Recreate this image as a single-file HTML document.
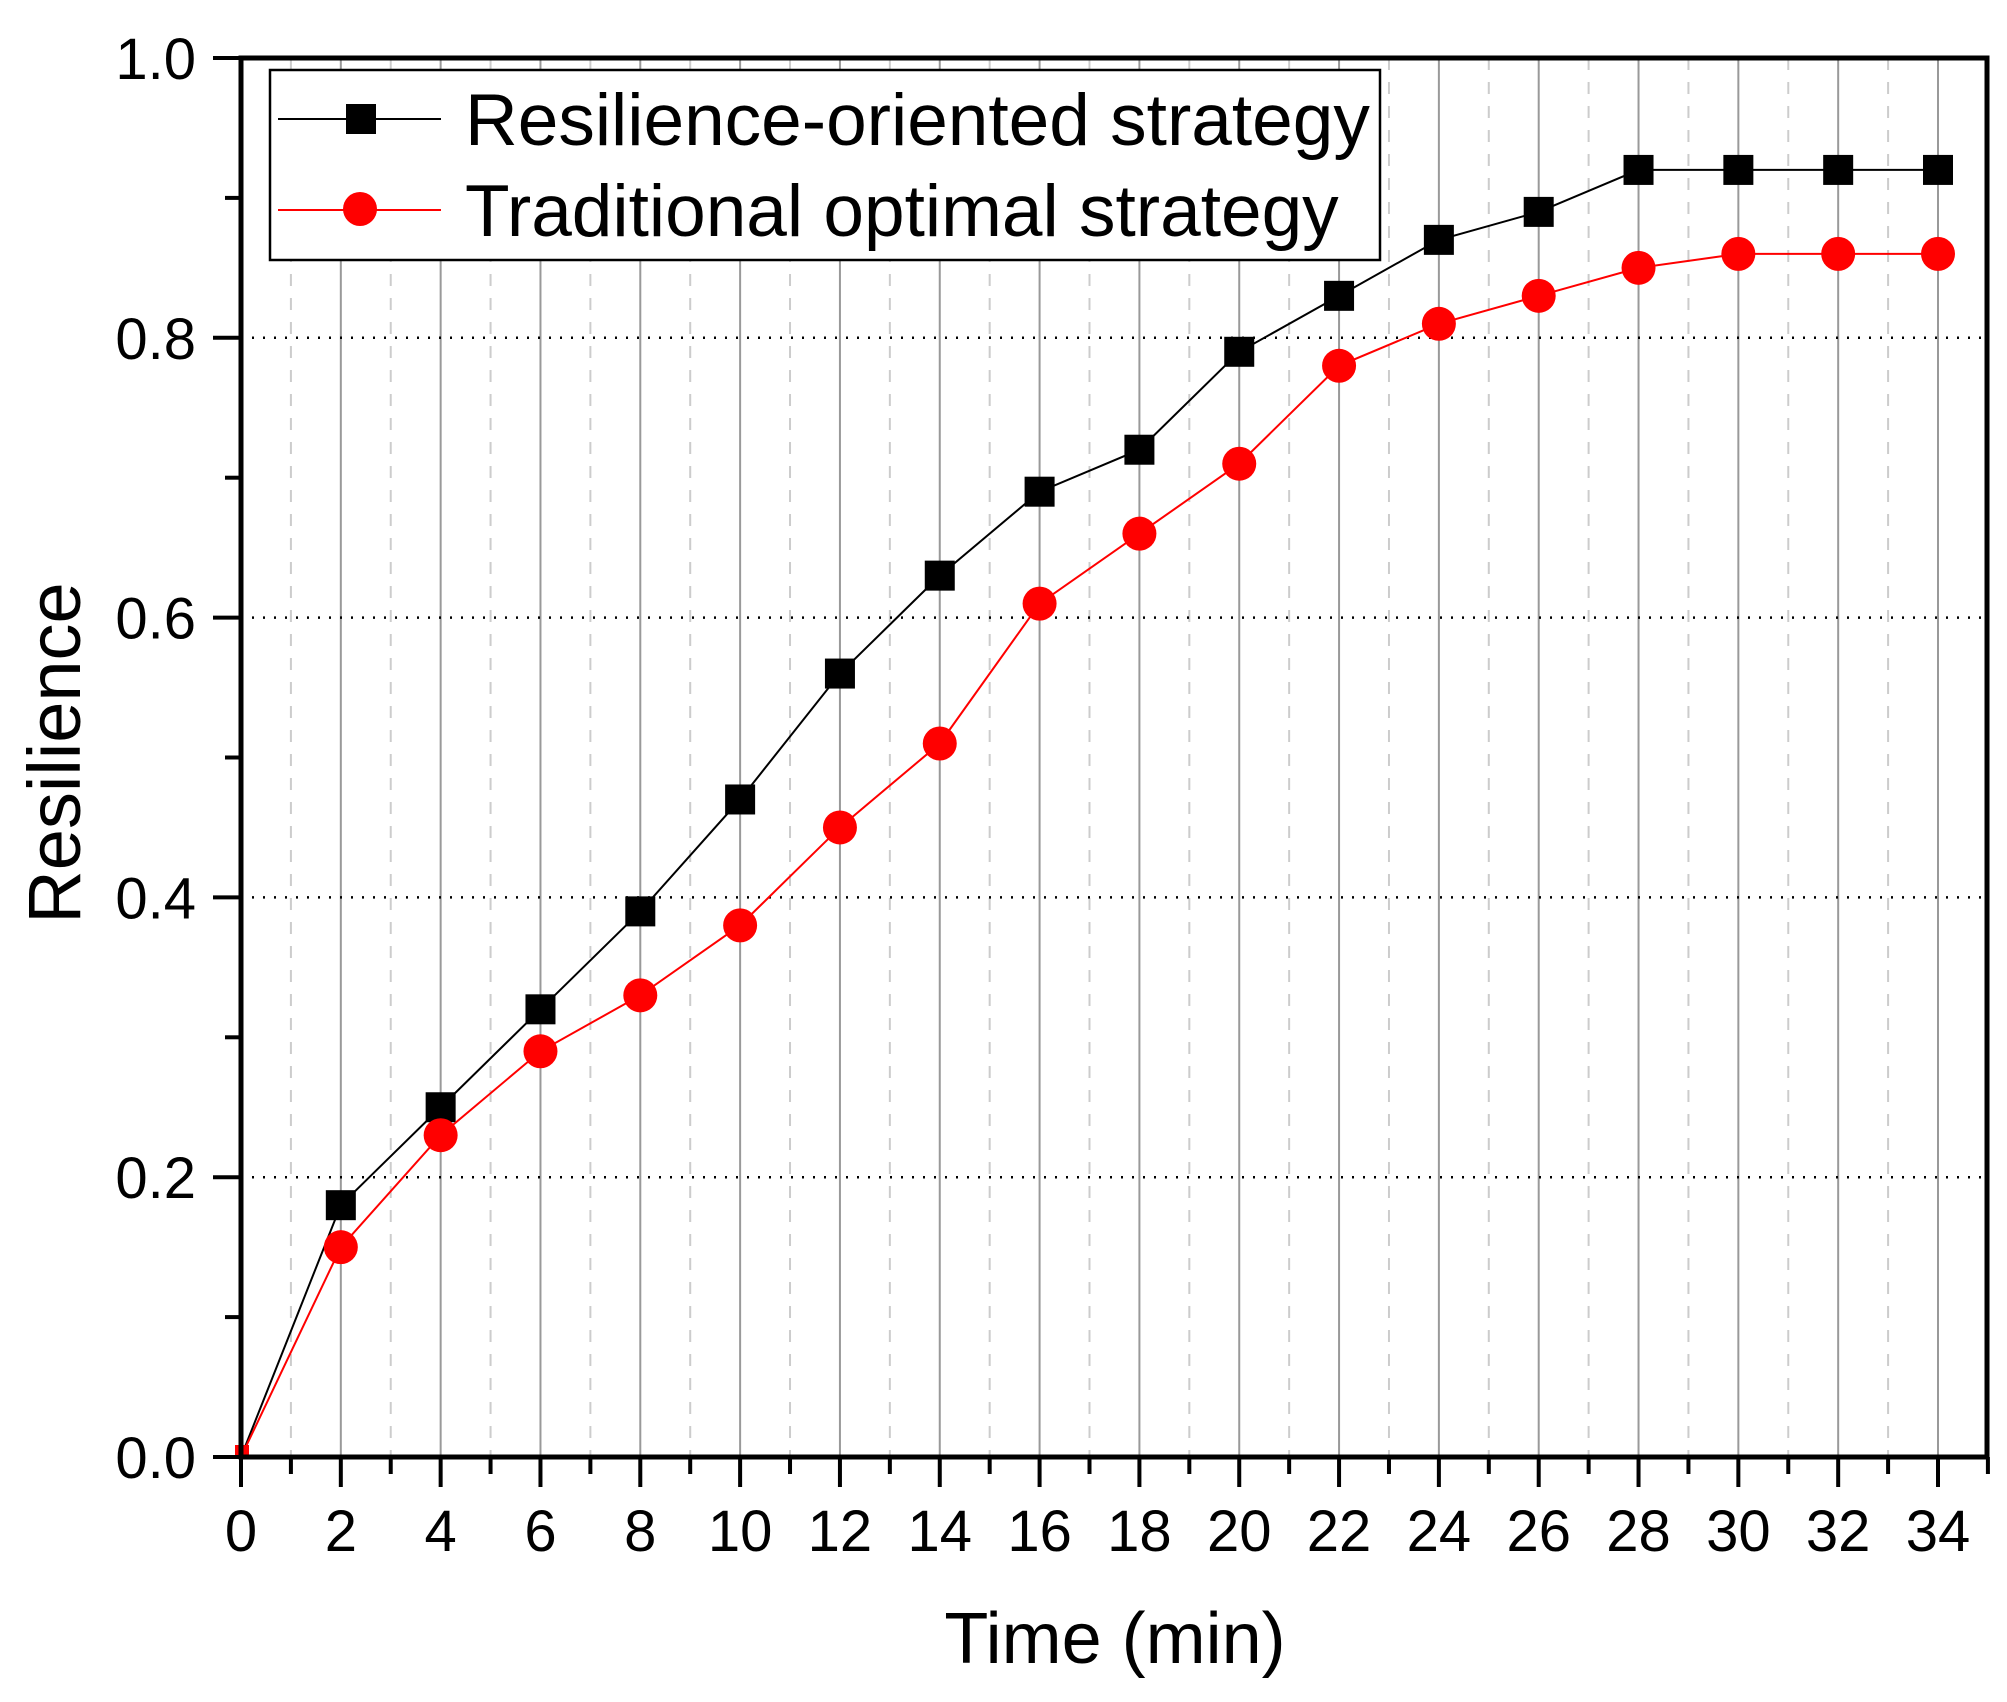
<!DOCTYPE html>
<html><head><meta charset="utf-8"><style>
html,body{margin:0;padding:0;background:#fff}
svg{display:block}
text{font-family:"Liberation Sans",Arial,sans-serif;fill:#000}
</style></head><body>
<svg id="chart" width="2007" height="1702" viewBox="0 0 2007 1702" xmlns="http://www.w3.org/2000/svg">
<g id="grid"></g>
<g id="series"></g>
<g id="axes"></g>
<g id="legend">
  <rect x="270" y="70" width="1110" height="190" fill="#fff" stroke="#000" stroke-width="2.5"/>
  <line x1="278" y1="119" x2="441" y2="119" stroke="#000" stroke-width="2"/>
  <rect x="346" y="104" width="30" height="30" fill="#000"/>
  <text x="465" y="145" font-size="73">Resilience-oriented strategy</text>
  <line x1="278" y1="210" x2="441" y2="210" stroke="#f00" stroke-width="2"/>
  <circle cx="360" cy="209" r="17" fill="#f00"/>
  <text x="465" y="236" font-size="73">Traditional optimal strategy</text>
</g>
<text transform="translate(80,753) rotate(-90)" text-anchor="middle" font-size="74">Resilience</text>
<text x="1115" y="1663" text-anchor="middle" font-size="72">Time (min)</text>
</svg>
<script>
const times = [0,2,4,6,8,10,12,14,16,18,20,22,24,26,28,30,32,34];
const resilienceOriented = [0,0.18,0.25,0.32,0.39,0.47,0.56,0.63,0.69,0.72,0.79,0.83,0.87,0.89,0.92,0.92,0.92,0.92];
const traditionalOptimal = [0,0.15,0.23,0.29,0.33,0.38,0.45,0.51,0.61,0.66,0.71,0.78,0.81,0.83,0.85,0.86,0.86,0.86];
const xTickLabels = [0,2,4,6,8,10,12,14,16,18,20,22,24,26,28,30,32,34];
const yTickLabels = ["0.0","0.2","0.4","0.6","0.8","1.0"];

const NS = "http://www.w3.org/2000/svg";
const L = 241, R = 1987, T = 58, B = 1457;
const xs = t => L + t * (1938 - 241) / 34;
const ys = v => B - v * (B - T);
function mk(tag, attrs, parent) {
  const e = document.createElementNS(NS, tag);
  for (const k in attrs) e.setAttribute(k, attrs[k]);
  parent.appendChild(e);
  return e;
}
const grid = document.getElementById('grid');
const axes = document.getElementById('axes');
const series = document.getElementById('series');

// vertical grid lines
for (let t = 1; t <= 34; t++) {
  const major = t % 2 === 0;
  const ln = mk('line', {x1: xs(t), x2: xs(t), y1: T, y2: B, stroke: major ? '#999' : '#ccc', 'stroke-width': 2, 'stroke-dasharray': major ? 'none' : '12,12'}, grid);
  
  
}
// horizontal dotted grid
for (let i = 1; i <= 4; i++) {
  const v = i * 0.2;
  const ln = mk('line', {x1: L, x2: R, y1: ys(v), y2: ys(v), stroke: '#000', 'stroke-width': 2.5, 'stroke-dasharray': '2,9'}, grid);
  
  
}

// series
function drawSeries(vals, color, kind, name) {
  const g = mk('g', {}, series);
  
  
  const pts = times.map((t, i) => xs(t) + ',' + ys(vals[i])).join(' ');
  const pl = mk('polyline', {points: pts, fill: 'none', stroke: color, 'stroke-width': 2}, g);
  
  
  times.forEach((t, i) => {
    let m;
    if (i === 0) {
      m = mk('rect', {x: xs(t) - 6, y: ys(vals[i]) - 12, width: 14, height: 12, fill: color}, g);
    } else if (kind === 'square') {
      m = mk('rect', {x: xs(t) - 15, y: ys(vals[i]) - 15, width: 30, height: 30, fill: color}, g);
    } else {
      m = mk('circle', {cx: xs(t), cy: ys(vals[i]), r: 17, fill: color}, g);
    }
    
    
  });
}
drawSeries(resilienceOriented, '#000', 'square', 'resilience-oriented-series');
drawSeries(traditionalOptimal, '#f00', 'circle', 'traditional-optimal-series');

// frame
const frame = mk('rect', {x: L, y: T, width: R - L, height: B - T, fill: 'none', stroke: '#000', 'stroke-width': 5}, axes);



// x ticks
for (let t = 0; t <= 35; t++) {
  const major = t % 2 === 0;
  const tk = mk('line', {x1: xs(t), x2: xs(t), y1: B, y2: B + (major ? 30 : 17), stroke: '#000', 'stroke-width': 4}, axes);
  
  
}
xTickLabels.forEach(v => {
  const tx = mk('text', {x: xs(v), y: 1551, 'text-anchor': 'middle', 'font-size': 58}, axes);
  tx.textContent = v;
  
  
});
// y ticks
for (let i = 0; i <= 10; i++) {
  const major = i % 2 === 0;
  const tk = mk('line', {x1: L - (major ? 28 : 16), x2: L, y1: ys(i / 10), y2: ys(i / 10), stroke: '#000', 'stroke-width': 4}, axes);
  
  
}
yTickLabels.forEach((s, i) => {
  const tx = mk('text', {x: 196, y: ys(i * 0.2) + 21, 'text-anchor': 'end', 'font-size': 58}, axes);
  tx.textContent = s;
  
  
});
</script>
</body></html>
